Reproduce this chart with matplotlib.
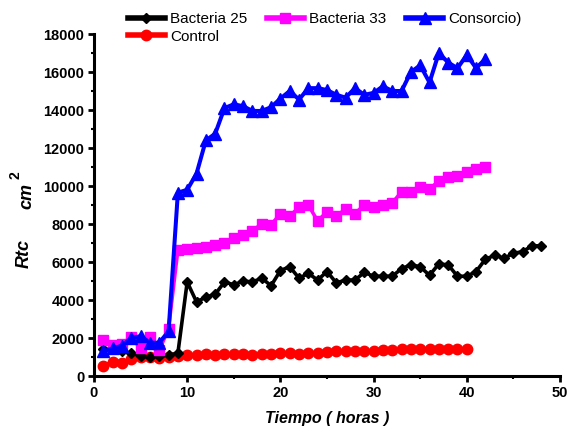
import matplotlib
matplotlib.use("Agg")
import matplotlib.pyplot as plt
from matplotlib.ticker import MultipleLocator

plt.rcParams['font.family'] = ['Liberation Sans', 'DejaVu Sans']

# Data (time in hours, Rtc values)
t_b25 = list(range(1, 49))
b25 = [1400, 1400, 1300, 1200, 1050, 1000, 1050, 1100, 1200, 4950,
       3900, 4150, 4300, 4950, 4800, 5000, 4950, 5150, 4750, 5550,
       5750, 5150, 5400, 5050, 5500, 4900, 5050, 5050, 5450, 5250,
       5250, 5250, 5650, 5850, 5750, 5300, 5900, 5850, 5250, 5250,
       5500, 6150, 6350, 6200, 6450, 6550, 6850, 6850]

t_b33 = list(range(1, 43))
b33 = [1900, 1650, 1700, 2050, 1450, 2050, 1350, 2500, 6650, 6700,
       6750, 6800, 6900, 7000, 7250, 7400, 7650, 8000, 7950, 8550,
       8400, 8900, 9000, 8150, 8650, 8400, 8800, 8550, 9000, 8900,
       9000, 9100, 9700, 9700, 9950, 9850, 10250, 10500, 10550, 10750,
       10900, 11000]

t_cons = list(range(1, 43))
cons = [1300, 1450, 1600, 2000, 2100, 1750, 1750, 2350, 9650, 9800,
        10650, 12400, 12750, 14100, 14300, 14200, 13950, 13950, 14150, 14600,
        15000, 14550, 15150, 15150, 15050, 14800, 14650, 15150, 14800, 14900,
        15250, 15000, 15000, 16000, 16350, 15450, 17000, 16500, 16200, 16900,
        16200, 16700]

t_ctrl = list(range(1, 41))
ctrl = [550, 750, 700, 900, 1000, 1000, 950, 1000, 1050, 1100,
        1100, 1150, 1100, 1150, 1150, 1150, 1100, 1150, 1150, 1200,
        1200, 1150, 1200, 1200, 1250, 1300, 1300, 1300, 1300, 1300,
        1350, 1350, 1400, 1400, 1400, 1400, 1400, 1400, 1400, 1400]

labels = ['Bacteria 25', 'Bacteria 33', 'Consorcio)', 'Control']

fig = plt.figure(figsize=(5.71, 4.34), dpi=100)
ax = fig.add_axes([94/571, 1-376/434, (560-94)/571, (376-34)/434])

l_ctrl, = ax.plot(t_ctrl, ctrl, color='#ff0000', marker='o', ms=7.5, lw=2.6, zorder=2, label=labels[3])
l_b25, = ax.plot(t_b25, b25, color='black', marker='D', ms=5.5, lw=2.6, zorder=3, label=labels[0])
l_b33, = ax.plot(t_b33, b33, color='#ff00ff', marker='s', ms=7.5, lw=2.6, zorder=4, label=labels[1])
l_cons, = ax.plot(t_cons, cons, color='#0000ff', marker='^', ms=8, lw=2.9, zorder=5, label=labels[2])

ax.set_xlim(0, 50)
ax.set_ylim(0, 18000)
ax.xaxis.set_major_locator(MultipleLocator(10))
ax.xaxis.set_minor_locator(MultipleLocator(5))
ax.yaxis.set_major_locator(MultipleLocator(2000))
ax.yaxis.set_minor_locator(MultipleLocator(1000))

for s in ['top', 'right']:
    ax.spines[s].set_visible(False)
for s in ['left', 'bottom']:
    ax.spines[s].set_linewidth(2.2)
ax.tick_params(which='major', length=4, width=2, direction='out', labelsize=10.5, pad=3)
ax.tick_params(which='minor', length=2.5, width=1.5, direction='out')
for lab in ax.get_xticklabels() + ax.get_yticklabels():
    lab.set_fontweight('bold')

ax.set_xlabel('Tiempo ( horas )', fontsize=11.5, fontstyle='italic', fontweight='bold', labelpad=8)

fig.text(24/571, 1-254/434, 'Rtc', rotation=90, fontsize=13, fontstyle='italic', fontweight='bold',
         ha='center', va='center')
fig.text(27/571, 1-196/434, 'cm', rotation=90, fontsize=13, fontstyle='italic', fontweight='bold',
         ha='center', va='center')
fig.text(15/571, 1-175/434, '2', rotation=90, fontsize=10, fontweight='bold',
         ha='center', va='center')

leg = fig.legend([l_b25, l_ctrl, l_b33, l_cons],
                 [labels[0], labels[3], labels[1], labels[2]],
                 ncol=3, loc='upper left', bbox_to_anchor=(128/571, 1-12/434),
                 frameon=False, fontsize=11, handlelength=2.4, handletextpad=0.35,
                 columnspacing=1.3, labelspacing=0.25, borderpad=0, borderaxespad=0)
for h in leg.legend_handles:
    h.set_linewidth(4)

fig.savefig('out.png', dpi=100)
